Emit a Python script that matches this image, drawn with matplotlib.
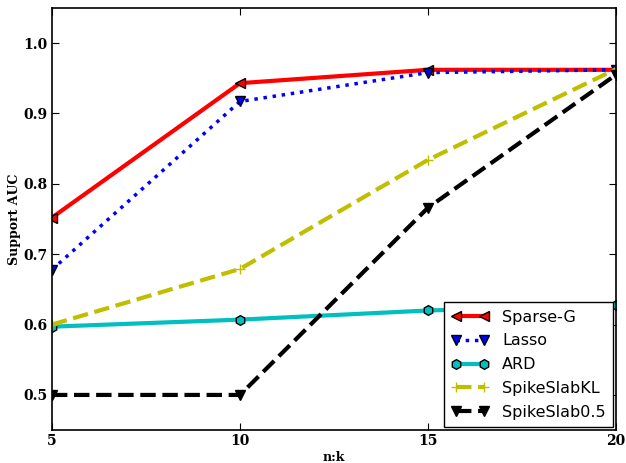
import matplotlib
matplotlib.use("Agg")
import matplotlib.pyplot as plt

x = [5, 10, 15, 20]
sparse_g = [0.752, 0.943, 0.962, 0.962]
lasso = [0.678, 0.917, 0.958, 0.962]
ard = [0.597, 0.607, 0.620, 0.628]
spikeslab_kl = [0.600, 0.679, 0.834, 0.963]
spikeslab05 = [0.500, 0.500, 0.766, 0.955]
xticks = [5, 10, 15, 20]
yticks = [0.5, 0.6, 0.7, 0.8, 0.9, 1.0]

fig = plt.figure(figsize=(6.26, 4.63), dpi=100)
ax = fig.add_axes([0.083, 0.071, 0.901, 0.912])

ax.plot(x, sparse_g, color='r', ls='-', lw=3, marker='<', ms=7, mec='k', label='Sparse-G')
ax.plot(x, lasso, color='b', ls=':', lw=2.5, marker='v', ms=7, mec='k', label='Lasso')
ax.plot(x, ard, color='c', ls='-', lw=3, marker='h', ms=7, mec='k', label='ARD')
ax.plot(x, spikeslab_kl, color='y', ls='--', lw=3, marker='+', ms=7, mew=1, label='SpikeSlabKL')
ax.plot(x, spikeslab05, color='k', ls='--', lw=3, marker='v', ms=7, label='SpikeSlab0.5')

tickfont = dict(family='DejaVu Serif', weight='bold', size=10)
ax.set_xlim(5, 20)
ax.set_ylim(0.45, 1.05)
ax.set_xticks(xticks)
ax.set_xticklabels(['%d' % t for t in xticks], fontdict=tickfont)
ax.set_yticks(yticks)
ax.set_yticklabels(['%.1f' % t for t in yticks], fontdict=tickfont)
ax.tick_params(direction='in', length=5, top=True, right=True, pad=3)
ax.set_xlabel('n:k', family='DejaVu Serif', weight='bold', size=9, va='center')
ax.xaxis.set_label_coords(0.5, -0.064)
ax.set_ylabel('Support AUC', family='DejaVu Serif', weight='bold', size=9, va='center')
ax.yaxis.set_label_coords(-0.066, 0.5)
for s in ax.spines.values():
    s.set_linewidth(1.2)

leg = ax.legend(loc='lower right', fontsize=11.5, fancybox=False, framealpha=1,
                edgecolor='k', handlelength=2.4, numpoints=2, borderaxespad=0.2,
                labelspacing=0.55, handletextpad=0.8, borderpad=0.45)
leg.get_frame().set_linewidth(1.0)

fig.savefig('out.png', dpi=100)
